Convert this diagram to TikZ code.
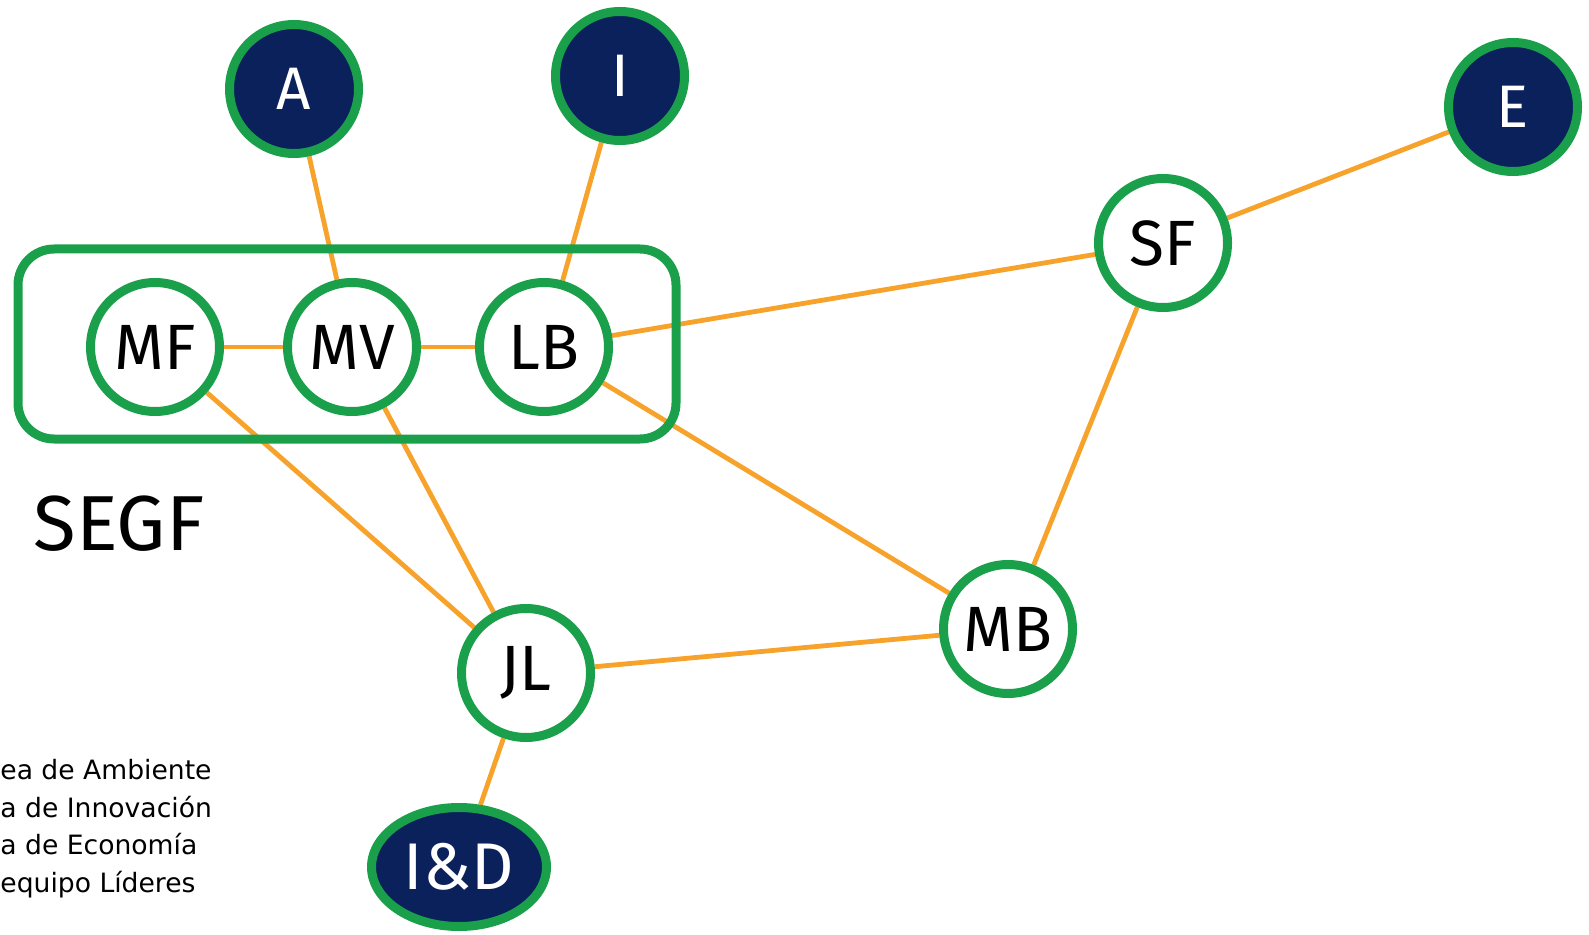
\documentclass[tikz,border=0pt]{standalone}
\usepackage{fontspec}
\setmainfont{Fira Sans}
\newfontfamily\legendfont{DejaVu Sans}
\usetikzlibrary{shapes.geometric,backgrounds}
\definecolor{segfgreen}{HTML}{1A9F4B}
\definecolor{segfnavy}{HTML}{0B215C}
\definecolor{segforange}{HTML}{F7A32B}
\begin{document}
\begin{tikzpicture}[x=0.5pt,y=-0.5pt,
  person/.style={circle,draw=segfgreen,line width=4.5pt,fill=white,minimum size=64.5pt,inner sep=0pt,font=\fontsize{32}{36}\selectfont},
  area/.style={circle,draw=segfgreen,line width=4.5pt,fill=segfnavy,text=white,minimum size=64.5pt,inner sep=0pt,font=\fontsize{30}{34}\selectfont},
  link/.style={draw=segforange,line width=2.4pt}]
\useasboundingbox (0,0) rectangle (1589,935);
\draw[segfgreen,line width=4.5pt,rounded corners=18pt](18,249) rectangle (676,439);
\node[area] (A) at (294,89) {A};
\node[area] (I) at (620,76) {I};
\node[area] (E) at (1513,107) {E};
\node[person] (SF) at (1163,243) {SF};
\node[person] (MF) at (155,347) {MF};
\node[person] (MV) at (352,347) {MV};
\node[person] (LB) at (544,347) {LB};
\node[person] (MB) at (1008,629) {MB};
\node[person] (JL) at (526,673) {JL};
\node[area,ellipse,minimum width=87.5pt,minimum height=59.5pt,font=\fontsize{33}{36}\selectfont] (ID) at (459,867) {I\&D};
\node[font=\fontsize{39}{44}\selectfont] (segf) at (119,524) {SEGF};
\node[anchor=north west,inner sep=0pt,align=left,font=\legendfont\fontsize{13.3}{18.75}\selectfont] (legend) at (0,759)
  {ea de Ambiente\\a de Innovación\\a de Economía\\equipo Líderes};
\begin{scope}[on background layer]
\draw[link](A)--(MV);
\draw[link](I)--(LB);
\draw[link](E)--(SF);
\draw[link](SF)--(LB);
\draw[link](SF)--(MB);
\draw[link](MF)--(MV);
\draw[link](MV)--(LB);
\draw[link](MF)--(JL);
\draw[link](MV)--(JL);
\draw[link](LB)--(MB);
\draw[link](JL)--(MB);
\draw[link](JL)--(ID);
\end{scope}
\end{tikzpicture}
\end{document}
